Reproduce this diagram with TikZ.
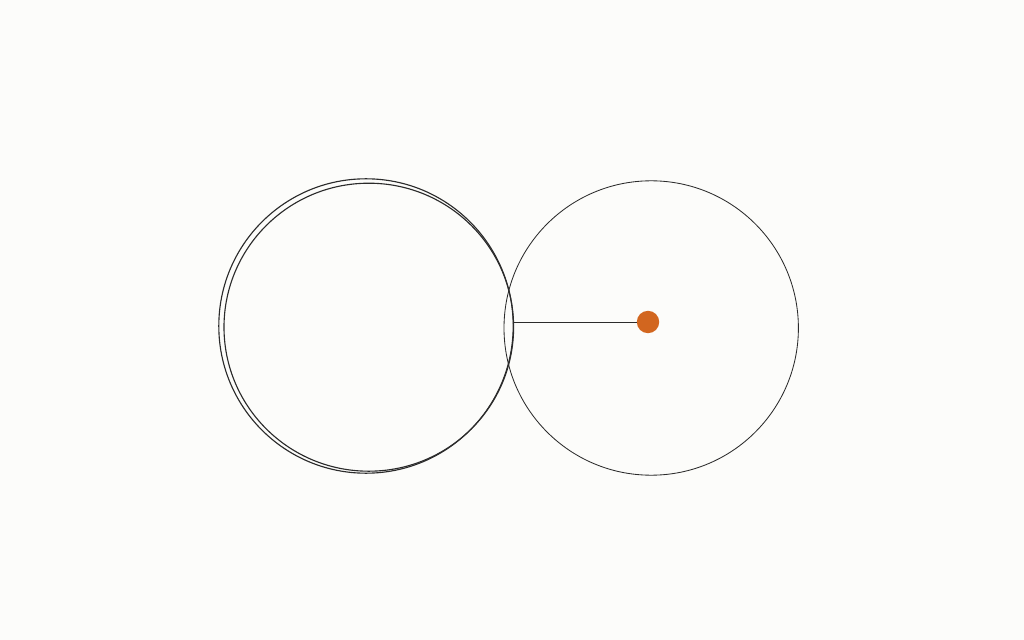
\documentclass[tikz,border=0pt]{standalone}
\usepackage{xcolor}
\usetikzlibrary{positioning}
\definecolor{paper}{HTML}{FCFCFA}
\definecolor{ink}{HTML}{2B2B2B}
\definecolor{rust}{HTML}{D2661F}
\tikzset{ring/.style={draw=ink,circle,inner sep=0pt,line width=0.8pt},
  hubdot/.style={circle,fill=rust,inner sep=0pt,minimum size=0.56cm}}

\begin{document}
\begin{tikzpicture}
    \fill[paper] (0,0) rectangle (25.6,-16);
    \useasboundingbox (0,0) rectangle (25.6,-16);

    \node[ring,minimum size=7.36cm] (left) at (9.15,-8.15) {};
    \draw[ink,line width=0.8pt] (9.22,-8.18) ellipse (3.62cm and 3.6cm);
    \node[ring,line width=0.6pt,minimum size=7.36cm] (right) at (16.28,-8.2) {};

    \node[hubdot] (hub) at (16.2,-8.05) {};
    \draw[ink,line width=0.6pt] (left.east |- hub) -- (hub);
  \end{tikzpicture}
\end{document}
